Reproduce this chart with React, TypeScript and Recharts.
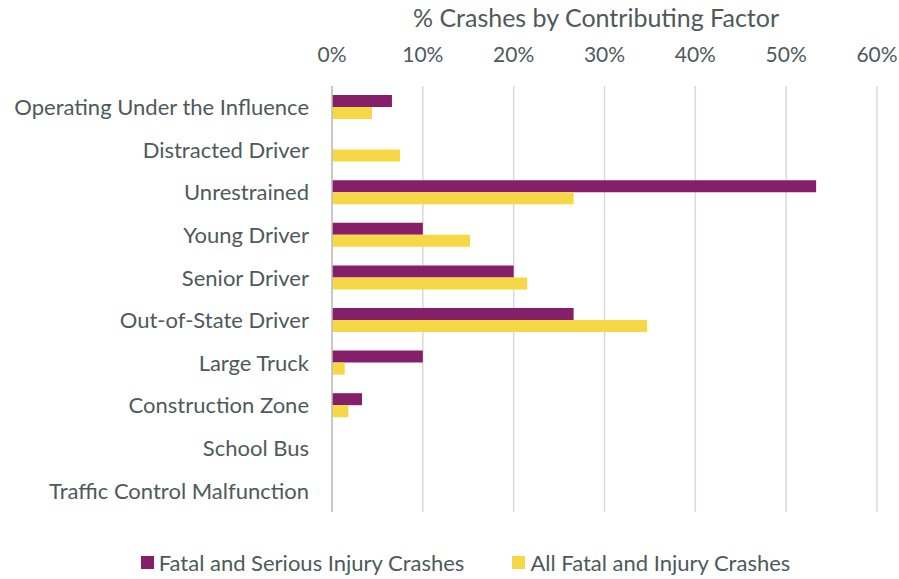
import { BarChart, Bar, XAxis, YAxis, CartesianGrid } from "recharts"

const factors = [
  "Operating Under the Influence",
  "Distracted Driver",
  "Unrestrained",
  "Young Driver",
  "Senior Driver",
  "Out-of-State Driver",
  "Large Truck",
  "Construction Zone",
  "School Bus",
  "Traffic Control Malfunction",
]

// share of crashes, 0..1
const fatalSerious = [0.066, 0, 0.533, 0.1, 0.2, 0.266, 0.1, 0.033, 0, 0]
const allFatalInjury = [0.044, 0.075, 0.266, 0.152, 0.215, 0.347, 0.014, 0.018, 0, 0]

const xTicks = [0, 0.1, 0.2, 0.3, 0.4, 0.5, 0.6]

const PURPLE = "#861F69"
const YELLOW = "#F6D846"
const TEXT = "#4E5A5A"
const FONT = "Lato, 'Open Sans', sans-serif"

const data = factors.map((name, i) => ({
  name,
  fatalSerious: fatalSerious[i],
  allFatalInjury: allFatalInjury[i],
}))

const pct = (v: number) => `${Math.round(v * 100)}%`

function LegendRow() {
  const item = (color: string, label: string) => (
    <div style={{ display: "flex", alignItems: "center", gap: 5 }}>
      <div style={{ width: 13, height: 13, background: color }} />
      <span>{label}</span>
    </div>
  )
  return (
    <div
      style={{
        position: "absolute",
        top: 549,
        left: 0,
        width: 931,
        display: "flex",
        justifyContent: "center",
        gap: 48,
        fontFamily: FONT,
        fontSize: 22,
        color: TEXT,
      }}
    >
      {item(PURPLE, "Fatal and Serious Injury Crashes")}
      {item(YELLOW, "All Fatal and Injury Crashes")}
    </div>
  )
}

export default function App() {
  return (
    <div style={{ position: "absolute", left: 0, top: 0, width: 899, height: 579, background: "#fff" }}>
      <div
        style={{
          position: "absolute",
          top: 2,
          left: 0,
          width: 1192,
          textAlign: "center",
          fontFamily: FONT,
          fontSize: 25,
          color: TEXT,
        }}
      >
        % Crashes by Contributing Factor
      </div>
      <BarChart
        width={899}
        height={579}
        data={data}
        layout="vertical"
        margin={{ top: 56, right: 22, bottom: 67, left: 10 }}
        barSize={12}
        barGap={0}
      >
        <CartesianGrid horizontal={false} stroke="#d9d9d9" strokeWidth={1.5} />
        <XAxis
          type="number"
          orientation="top"
          domain={[0, 0.6]}
          ticks={xTicks}
          tickFormatter={pct}
          height={30}
          axisLine={false}
          tickLine={false}
          tickSize={0}
          tickMargin={24}
          tick={{ fill: TEXT, fontSize: 21, fontFamily: FONT }}
        />
        <YAxis
          type="category"
          dataKey="name"
          width={322}
          axisLine={{ stroke: "#bfbfbf", strokeWidth: 1.5 }}
          tickLine={false}
          tickSize={0}
          tickMargin={23}
          interval={0}
          tick={{ fill: TEXT, fontSize: 22, fontFamily: FONT }}
        />
        <Bar dataKey="fatalSerious" fill={PURPLE} isAnimationActive={false} />
        <Bar dataKey="allFatalInjury" fill={YELLOW} isAnimationActive={false} />
      </BarChart>
      <LegendRow />
    </div>
  )
}
